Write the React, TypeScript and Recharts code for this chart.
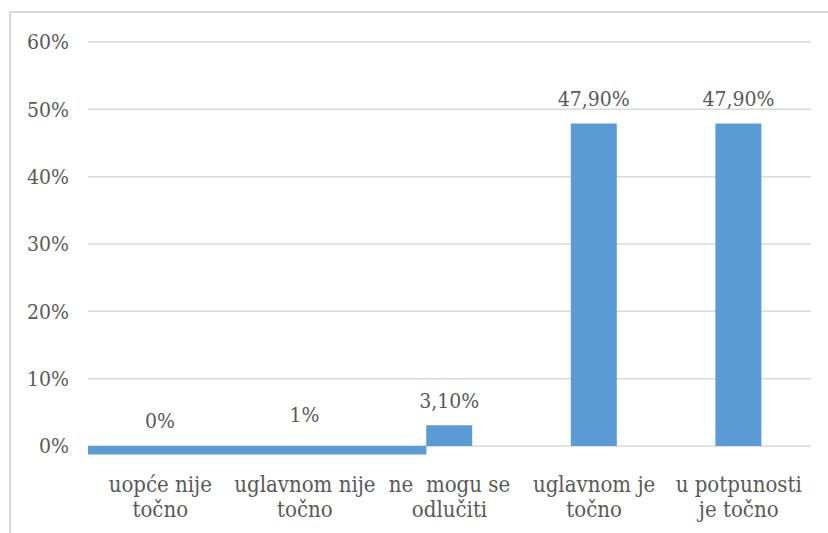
import React from 'react';
import { BarChart, Bar, XAxis, YAxis, CartesianGrid, LabelList, Cell, ReferenceArea } from 'recharts';

// survey answers and their shares (in %)
const categories = [
  'uopće nije točno',
  'uglavnom nije točno',
  'ne  mogu se odlučiti',
  'uglavnom je točno',
  'u potpunosti je točno',
];
const tickLines = [
  ['uopće nije', 'točno'],
  ['uglavnom nije', 'točno'],
  ['ne  mogu se', 'odlučiti'],
  ['uglavnom je', 'točno'],
  ['u potpunosti', 'je točno'],
];
const values = [0, 1, 3.1, 47.9, 47.9];
const valueLabels = ['0%', '1%', '3,10%', '47,90%', '47,90%'];
const hiddenBars = [true, true, false, false, false];
const yTicks = [0, 10, 20, 30, 40, 50, 60];

// the stray strip under the axis, left of the third bar (category units / %)
const stripEnd = 2.34;
const stripDepth = -1.26;

const data = categories.map((name, i) => ({
  name,
  pos: i + 0.5,
  value: values[i],
  label: valueLabels[i],
}));

const textColor = '#595959';
const font = 'DejaVu Serif Condensed';

function CategoryTick(props: any) {
  const { x, y, payload } = props;
  const lines = tickLines[payload.index] || [payload.value];
  return (
    <text
      x={x}
      y={y}
      textAnchor="middle"
      fill={textColor}
      fontSize={22}
      fontFamily={font}
      style={{ whiteSpace: 'pre' }}
    >
      {lines.map((line: string, i: number) => (
        <tspan key={i} x={x} y={y + 46 + i * 25}>
          {line}
        </tspan>
      ))}
    </text>
  );
}

export default function App() {
  return (
    <div style={{ position: 'absolute', left: 0, top: 0, width: 828, height: 533, overflow: 'hidden', background: '#fff' }}>
      <div
        style={{
          position: 'absolute',
          left: 9,
          top: 11,
          width: 840,
          height: 560,
          border: '2px solid #d9d9d9',
        }}
      />
      <BarChart
        width={828}
        height={533}
        data={data}
        margin={{ top: 42, right: 17, left: 0, bottom: 7 }}
        style={{ position: 'absolute', left: 0, top: 0 }}
      >
        <CartesianGrid vertical={false} stroke="#d9d9d9" strokeWidth={1.5} />
        <XAxis
          dataKey="name"
          axisLine={false}
          tickLine={false}
          tickSize={0}
          tickMargin={0}
          height={80}
          interval={0}
          tick={<CategoryTick />}
        />
        <XAxis xAxisId="strip" dataKey="pos" type="number" domain={[0, 5]} allowDataOverflow hide />
        <YAxis
          width={88}
          domain={[0, 60]}
          ticks={yTicks}
          axisLine={false}
          tickLine={false}
          tickSize={0}
          tickMargin={19}
          tickFormatter={(v: number) => `${v}%`}
          tick={{ fill: textColor, fontSize: 21, fontFamily: font }}
        />
        <Bar dataKey="value" fill="#5b9bd5" barSize={46} minPointSize={1} isAnimationActive={false}>
          {data.map((d, i) => (
            <Cell key={d.name} fill={hiddenBars[i] ? 'transparent' : '#5b9bd5'} />
          ))}
          <LabelList
            dataKey="label"
            position="top"
            offset={17}
            fill={textColor}
            fontSize={21}
            fontFamily={font}
          />
        </Bar>
        <ReferenceArea
          xAxisId="strip"
          x1={0}
          x2={stripEnd}
          y1={stripDepth}
          y2={0}
          fill="#5b9bd5"
          fillOpacity={1}
          stroke="none"
          ifOverflow="visible"
        />
      </BarChart>
    </div>
  );
}
